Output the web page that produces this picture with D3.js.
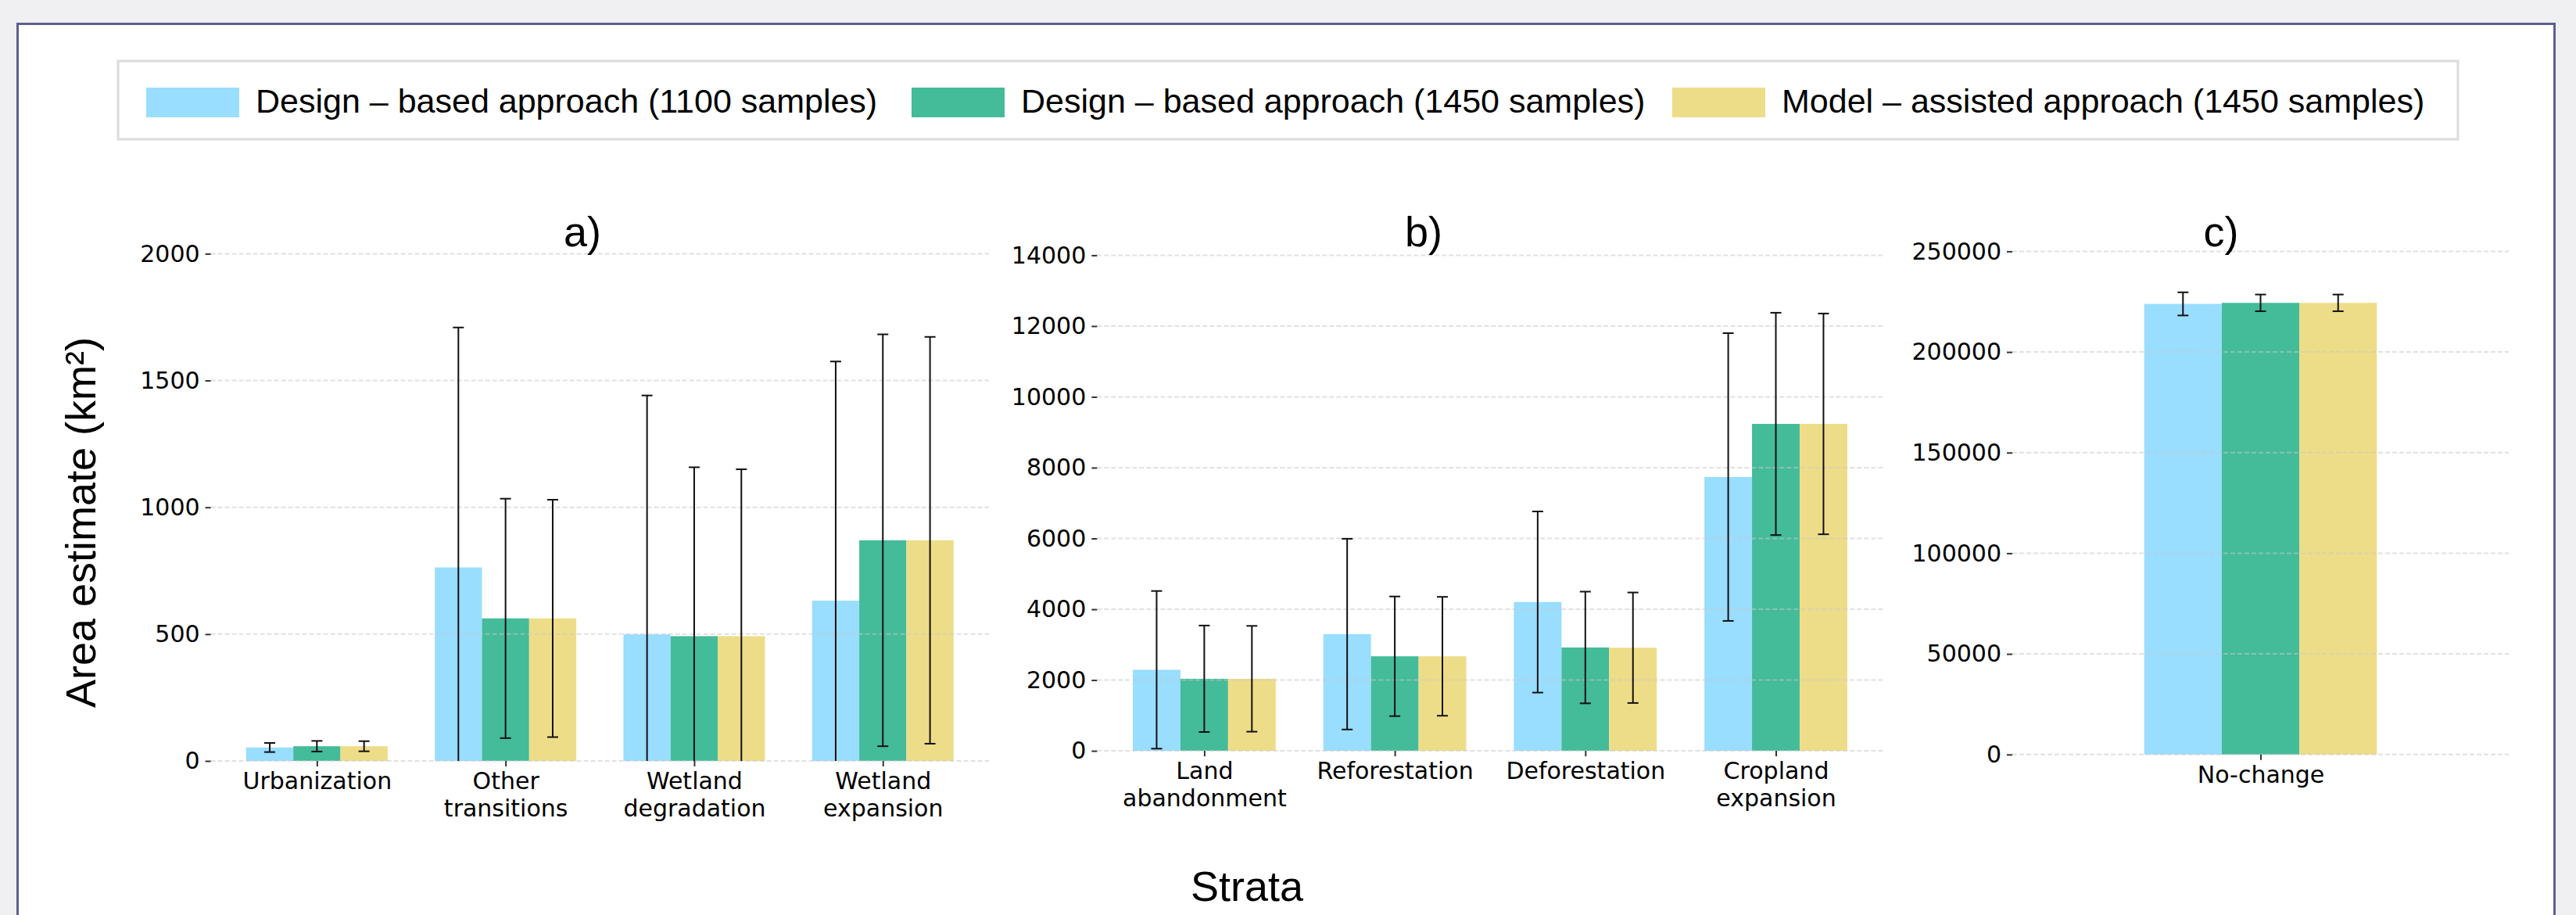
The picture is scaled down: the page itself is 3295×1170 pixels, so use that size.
<!DOCTYPE html>
<html>
<head>
<meta charset="utf-8">
<script src="https://cdn.jsdelivr.net/npm/d3@7"></script>
<style>
  html, body { margin: 0; padding: 0; background: #f0f0f2; }
  svg { display: block; }
</style>
</head>
<body>
<svg id="chart" width="3295" height="1170"></svg>
<script>
// ---------------- DATA ----------------
const seriesNames = [
  "Design – based approach (1100 samples)",
  "Design – based approach (1450 samples)",
  "Model – assisted approach (1450 samples)"
];
const seriesColors = ["#99DDFF", "#44BB99", "#EEDD88"];

// Panel a
const categoriesA = ["Urbanization", "Other\ntransitions", "Wetland\ndegradation", "Wetland\nexpansion"];
const design1100A = [53, 763, 499, 632];
const design1100ErrA = [18, 946, 942, 943];
const design1450A = [58, 562, 492, 870];
const design1450ErrA = [21, 472, 666, 812];
const model1450A = [58, 562, 492, 870];
const model1450ErrA = [20, 468, 658, 802];
const ticksA = [0, 500, 1000, 1500, 2000];

// Panel b
const categoriesB = ["Land\nabandonment", "Reforestation", "Deforestation", "Cropland\nexpansion"];
const design1100B = [2289, 3297, 4204, 7735];
const design1100ErrB = [2227, 2694, 2558, 4064];
const design1450B = [2036, 2671, 2920, 9236];
const design1450ErrB = [1504, 1690, 1578, 3140];
const model1450B = [2036, 2671, 2913, 9236];
const model1450ErrB = [1494, 1679, 1561, 3118];
const ticksB = [0, 2000, 4000, 6000, 8000, 10000, 12000, 14000];

// Panel c
const categoriesC = ["No-change"];
const design1100C = [223900];
const design1100ErrC = [5750];
const design1450C = [224400];
const design1450ErrC = [4150];
const model1450C = [224400];
const model1450ErrC = [4150];
const ticksC = [0, 50000, 100000, 150000, 200000, 250000];

const titles = ["a)", "b)", "c)"];
const yLabel = "Area estimate (km²)";
const xLabel = "Strata";

// ---------------- LAYOUT ----------------
const panels = [
  { title: titles[0], cats: categoriesA,
    vals: [design1100A, design1450A, model1450A],
    errs: [design1100ErrA, design1450ErrA, model1450ErrA],
    ticks: ticksA, xDomain: [-0.5625, 3.5625], xRange: [269.6, 1265],
    yRange: [973, 324.4], titleX: 745 },
  { title: titles[1], cats: categoriesB,
    vals: [design1100B, design1450B, model1450B],
    errs: [design1100ErrB, design1450ErrB, model1450ErrB],
    ticks: ticksB, xDomain: [-0.5625, 3.5625], xRange: [1403.3, 2408.6],
    yRange: [960.1, 326.4], titleX: 1821 },
  { title: titles[2], cats: categoriesC,
    vals: [design1100C, design1450C, model1450C],
    errs: [design1100ErrC, design1450ErrC, model1450ErrC],
    ticks: ticksC, xDomain: [-0.8, 0.8], xRange: [2574, 3209],
    yRange: [964.8, 321.4], titleX: 2841 }
];

const tickFont = "'DejaVu Sans', sans-serif";
const labelFont = "'Liberation Sans', Arial, sans-serif";
const barW = 0.25;

const svg = d3.select("#chart");

// Outer white panel
svg.append("rect")
  .attr("x", 22.5).attr("y", 30.5)
  .attr("width", 3245).attr("height", 1200)
  .attr("fill", "#ffffff")
  .attr("stroke", "#5d5f90").attr("stroke-width", 3);

// Legend
const legend = svg.append("g");
legend.append("rect")
  .attr("x", 151).attr("y", 78)
  .attr("width", 2993).attr("height", 100)
  .attr("fill", "#ffffff")
  .attr("stroke", "#dcdcdc").attr("stroke-width", 3);
const legendSwatchX = [187, 1166, 2139];
seriesNames.forEach((name, i) => {
  legend.append("rect")
    .attr("x", legendSwatchX[i]).attr("y", 112)
    .attr("width", 119).attr("height", 38)
    .attr("fill", seriesColors[i]);
  legend.append("text")
    .attr("x", legendSwatchX[i] + 140).attr("y", 144)
    .attr("font-family", labelFont).attr("font-size", 43)
    .attr("fill", "#000")
    .text(name);
});

// Panels
panels.forEach(p => {
  const x = d3.scaleLinear().domain(p.xDomain).range(p.xRange);
  const y = d3.scaleLinear().domain([0, p.ticks[p.ticks.length - 1]]).range(p.yRange);
  const g = svg.append("g");

  // Bars
  p.vals.forEach((series, s) => {
    g.selectAll(null).data(series).enter().append("rect")
      .attr("x", (d, i) => x(i + (s - 1) * barW - barW / 2))
      .attr("width", x(barW) - x(0))
      .attr("y", d => y(d))
      .attr("height", d => y(0) - y(d))
      .attr("fill", seriesColors[s]);
  });

  // Grid (drawn on top, light dashed)
  g.selectAll(null).data(p.ticks).enter().append("line")
    .attr("x1", p.xRange[0]).attr("x2", p.xRange[1])
    .attr("y1", d => y(d)).attr("y2", d => y(d))
    .attr("stroke", "#c8c8c8").attr("stroke-opacity", 0.55)
    .attr("stroke-width", 2).attr("stroke-dasharray", "6,3");

  // Error bars
  p.vals.forEach((series, s) => {
    series.forEach((v, i) => {
      const e = p.errs[s][i];
      const cx = x(i + (s - 1) * barW);
      const lo = v - e, hi = v + e;
      const yLo = y(Math.max(lo, 0)), yHi = y(hi);
      g.append("line").attr("x1", cx).attr("x2", cx)
        .attr("y1", yLo).attr("y2", yHi)
        .attr("stroke", "#111").attr("stroke-width", 2);
      g.append("line").attr("x1", cx - 7).attr("x2", cx + 7)
        .attr("y1", yHi).attr("y2", yHi)
        .attr("stroke", "#111").attr("stroke-width", 2);
      if (lo >= 0) {
        g.append("line").attr("x1", cx - 7).attr("x2", cx + 7)
          .attr("y1", yLo).attr("y2", yLo)
          .attr("stroke", "#111").attr("stroke-width", 2);
      }
    });
  });

  // Y axis
  const yAxis = g.append("g")
    .attr("transform", `translate(${p.xRange[0]},0)`)
    .call(d3.axisLeft(y).tickValues(p.ticks).tickFormat(d3.format("d")).tickSize(7).tickPadding(7));
  yAxis.select(".domain").remove();
  yAxis.selectAll(".tick line").attr("stroke", "#333").attr("stroke-width", 2);
  yAxis.selectAll(".tick text")
    .attr("font-family", tickFont).attr("font-size", 30).attr("fill", "#000");

  // X axis
  const idx = p.cats.map((c, i) => i);
  const xAxis = g.append("g")
    .attr("transform", `translate(0,${p.yRange[0]})`)
    .call(d3.axisBottom(x).tickValues(idx).tickFormat("").tickSize(7));
  xAxis.select(".domain").remove();
  xAxis.selectAll(".tick line").attr("stroke", "#333").attr("stroke-width", 2);
  xAxis.selectAll(".tick").each(function(d) {
    const lines = p.cats[d].split("\n");
    const t = d3.select(this).append("text")
      .attr("text-anchor", "middle")
      .attr("font-family", tickFont).attr("font-size", 30).attr("fill", "#000");
    lines.forEach((ln, k) => {
      t.append("tspan").attr("x", 0).attr("y", 36 + k * 34.5).text(ln);
    });
  });

  // Title
  svg.append("text")
    .attr("x", p.titleX).attr("y", 315)
    .attr("text-anchor", "middle")
    .attr("font-family", labelFont).attr("font-size", 54)
    .attr("fill", "#000")
    .text(p.title);
});

// Axis labels
svg.append("text")
  .attr("transform", "translate(122,668) rotate(-90)")
  .attr("text-anchor", "middle")
  .attr("font-family", labelFont).attr("font-size", 54)
  .attr("fill", "#000")
  .text(yLabel);

svg.append("text")
  .attr("x", 1595).attr("y", 1152)
  .attr("text-anchor", "middle")
  .attr("font-family", labelFont).attr("font-size", 54)
  .attr("fill", "#000")
  .text(xLabel);
</script>
</body>
</html>
